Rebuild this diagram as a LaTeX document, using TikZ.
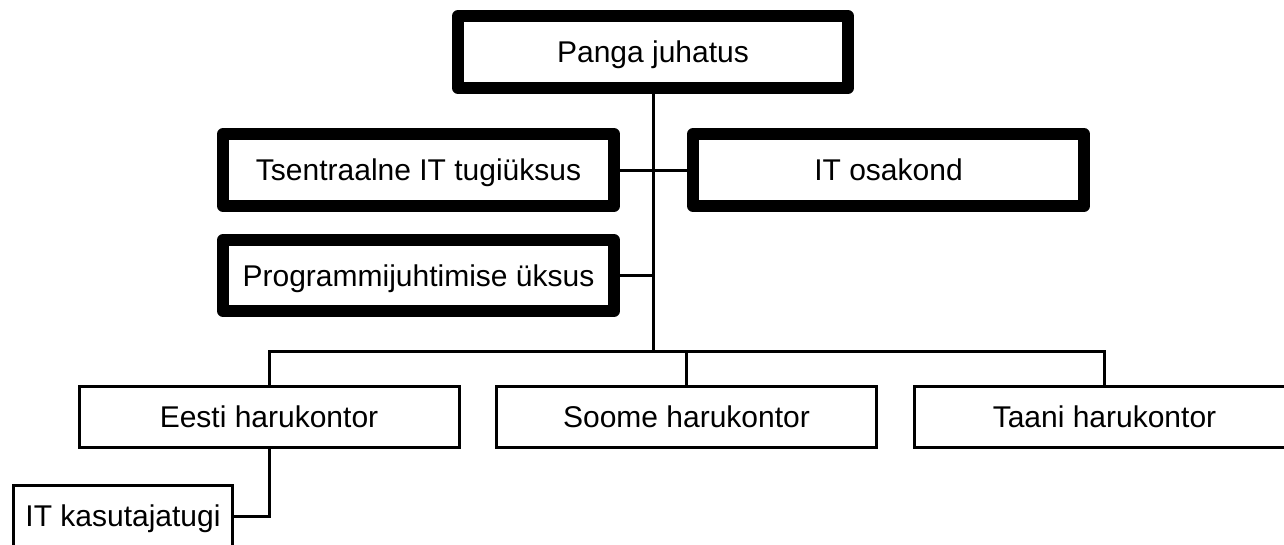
\documentclass[tikz,border=0pt]{standalone}
\usepackage{fontspec}
\setmainfont{Liberation Sans}
\begin{document}
\begin{tikzpicture}[x=1pt,y=-1pt,
  every node/.style={font=\fontsize{30}{35}\selectfont, inner sep=0pt,
    text height=21.5pt, text depth=0pt},
  mainbox/.style={draw, line width=12pt, line join=round, rectangle,
    minimum width=391pt, minimum height=72pt},
  branchbox/.style={draw, line width=3pt, rectangle,
    minimum width=380pt, minimum height=61pt},
  link/.style={line width=3pt}]
  \useasboundingbox (0,0) rectangle (1284,544);
  \clip (0,0) rectangle (1284,544);

  % management and central units
  \node[mainbox, minimum width=390pt] (board) at (653,52) {Panga juhatus};
  \node[mainbox] (support) at (418.5,170) {Tsentraalne IT tugiüksus};
  \node[mainbox] (itdep) at (888.5,170) {IT osakond};
  \node[mainbox, minimum height=71pt] (prog) at (418.5,275.5) {Programmijuhtimise üksus};

  % branch offices
  \node[branchbox] (ee) at (269,417) {Eesti harukontor};
  \node[branchbox] (fi) at (686.5,417) {Soome harukontor};
  \node[branchbox] (dk) at (1104.5,417) {Taani harukontor};
  \node[branchbox, minimum width=219pt] (help) at (123,516) {IT kasutajatugi};

  % connectors
  \coordinate (bus) at (653,351.5);
  \draw[link] (board.south) -- (bus);
  \draw[link] (support.east) -- (itdep.west);
  \draw[link] (prog.east) -- (prog.east -| bus);
  \draw[link] (ee.north) |- (bus) -| (dk.north);
  \draw[link] (fi.north) -- (fi.north |- bus);
  \draw[link] (ee.south) |- (help.east);
\end{tikzpicture}
\end{document}
